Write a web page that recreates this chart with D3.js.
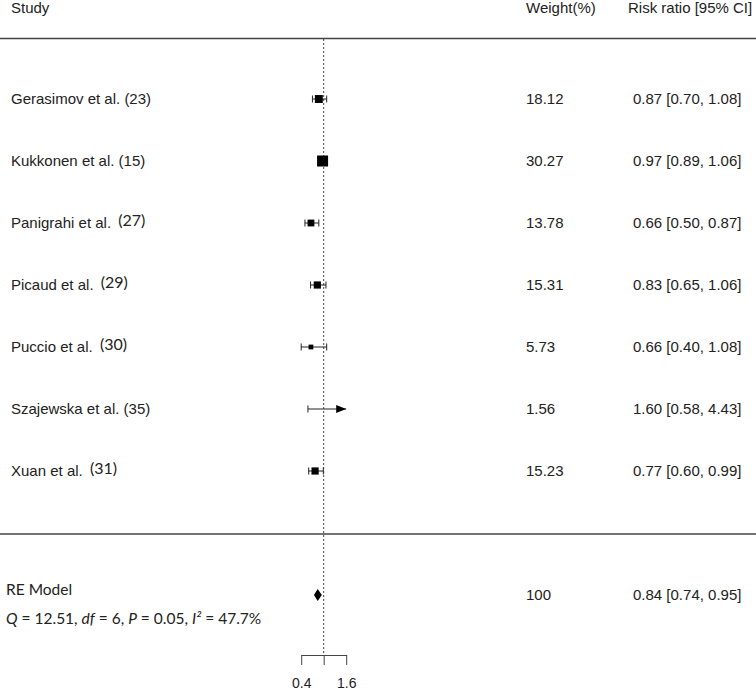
<!DOCTYPE html>
<html>
<head>
<meta charset="utf-8">
<script src="https://cdn.jsdelivr.net/npm/d3@7"></script>
<style>
  body { margin: 0; background: #fff; }
  text { font-family: "Liberation Sans", Arial, sans-serif; fill: #222; }
  .cal { font-family: Lato, "Open Sans", sans-serif; }
</style>
</head>
<body>
<div id="chart"></div>
<script>
const studies = ['Gerasimov et al.', 'Kukkonen et al.', 'Panigrahi et al.', 'Picaud et al.',
                 'Puccio et al.', 'Szajewska et al.', 'Xuan et al.'];
const refs    = ['(23)', '(15)', '(27)', '(29)', '(30)', '(35)', '(31)'];
const weights = [18.12, 30.27, 13.78, 15.31, 5.73, 1.56, 15.23];
const rr      = [0.87, 0.97, 0.66, 0.83, 0.66, 1.60, 0.77];
const lower   = [0.70, 0.89, 0.50, 0.65, 0.40, 0.58, 0.60];
const upper   = [1.08, 1.06, 0.87, 1.06, 1.08, 4.43, 0.99];

const pooled     = { label: 'RE Model', weight: '100', rr: 0.84, lower: 0.74, upper: 0.95 };
const tickValues = [0.4, 1, 1.6];
const tickLabels = ['0.4', '', '1.6'];

// refs that were typed in another font in the original
const calRefs = ['(27)', '(29)', '(30)', '(31)'];

const width = 756,
      height = 693;

const chart = d3.select('#chart')
                .append('svg')
                .attr('width', width)
                .attr('height', height);

const x = d3.scaleLinear()
            .domain([0.4, 1.6])
            .range([301.2, 346.2]);

const y = d3.scalePoint()
            .domain(studies)
            .range([99, 471]);

const boxSize = d3.scaleLinear()
                  .domain([d3.min(weights), d3.max(weights)])
                  .range([3.7, 11]);

const fmt = d3.format('.2f');

// header
chart.append('text').attr('x', 11).attr('y', 13).style('font-size', '15px').text('Study');
chart.append('text').attr('x', 526).attr('y', 13).style('font-size', '15px').text('Weight(%)');
chart.append('text').attr('x', 628).attr('y', 13).style('font-size', '15px').text('Risk ratio [95% CI]');

// separator lines
[38.5, 534].forEach(function(yy) {
  chart.append('line')
       .attr('x1', 0).attr('x2', width)
       .attr('y1', yy).attr('y2', yy)
       .attr('stroke', '#444')
       .attr('stroke-width', 1.5);
});

// reference line at 1
chart.append('line')
     .attr('x1', x(1)).attr('x2', x(1))
     .attr('y1', 39).attr('y2', 655)
     .attr('stroke', '#444')
     .attr('stroke-width', 1)
     .attr('stroke-dasharray', '2,2');

const rows = chart.selectAll('.row')
                  .data(studies)
                  .enter()
                  .append('g')
                  .attr('class', 'row');

const lab = rows.append('text')
                .attr('x', 11)
                .attr('y', function(d) { return y(d) + 5; })
                .style('font-size', '15px');

lab.append('tspan').text(function(d) { return d + ' '; });
lab.append('tspan')
   .attr('class', function(d, i) { return calRefs.includes(refs[i]) ? 'cal' : null; })
   .attr('dx', function(d, i) { return calRefs.includes(refs[i]) ? 3 : 0; })
   .attr('dy', function(d, i) { return calRefs.includes(refs[i]) ? -2 : 0; })
   .style('font-size', function(d, i) { return calRefs.includes(refs[i]) ? '16px' : '15px'; })
   .text(function(d, i) { return refs[i]; });

rows.append('text')
    .attr('x', 526)
    .attr('y', function(d) { return y(d) + 5; })
    .style('font-size', '15px')
    .text(function(d, i) { return fmt(weights[i]); });

rows.append('text')
    .attr('x', 633)
    .attr('y', function(d) { return y(d) + 5; })
    .style('font-size', '15px')
    .text(function(d, i) { return fmt(rr[i]) + ' [' + fmt(lower[i]) + ', ' + fmt(upper[i]) + ']'; });

// CI lines, clipped at axis limit
const xmax = x.domain()[1];
rows.append('line')
    .attr('x1', function(d, i) { return x(lower[i]); })
    .attr('x2', function(d, i) { return x(Math.min(upper[i], xmax)); })
    .attr('y1', function(d) { return y(d); })
    .attr('y2', function(d) { return y(d); })
    .attr('stroke', '#222');

rows.append('line')
    .attr('x1', function(d, i) { return x(lower[i]); })
    .attr('x2', function(d, i) { return x(lower[i]); })
    .attr('y1', function(d) { return y(d) - 3.5; })
    .attr('y2', function(d) { return y(d) + 3.5; })
    .attr('stroke', '#222');

rows.filter(function(d, i) { return upper[i] <= xmax; })
    .append('line')
    .attr('x1', function(d) { return x(upper[studies.indexOf(d)]); })
    .attr('x2', function(d) { return x(upper[studies.indexOf(d)]); })
    .attr('y1', function(d) { return y(d) - 3.5; })
    .attr('y2', function(d) { return y(d) + 3.5; })
    .attr('stroke', '#222');

rows.filter(function(d, i) { return upper[i] > xmax; })
    .append('path')
    .attr('d', function(d) {
      const tip = x(xmax), yy = y(d);
      return 'M' + tip + ',' + yy + 'L' + (tip - 10) + ',' + (yy - 4) + 'L' + (tip - 10) + ',' + (yy + 4) + 'Z';
    })
    .attr('fill', '#000');

// boxes
rows.filter(function(d, i) { return rr[i] < xmax; })
    .append('rect')
    .attr('x', function(d) { const i = studies.indexOf(d); return x(rr[i]) - boxSize(weights[i]) / 2; })
    .attr('y', function(d) { const i = studies.indexOf(d); return y(d) - boxSize(weights[i]) / 2; })
    .attr('width', function(d) { return boxSize(weights[studies.indexOf(d)]); })
    .attr('height', function(d) { return boxSize(weights[studies.indexOf(d)]); })
    .attr('fill', '#000');

// pooled estimate
const py = 595;
chart.append('path')
     .attr('d', 'M' + x(pooled.lower) + ',' + py + 'L' + x(pooled.rr) + ',' + (py - 6) +
                'L' + x(pooled.upper) + ',' + py + 'L' + x(pooled.rr) + ',' + (py + 6) + 'Z')
     .attr('fill', '#000');

chart.append('text').attr('class', 'cal').attr('x', 6).attr('y', 595)
     .style('font-size', '15.5px').text(pooled.label);

const het = chart.append('text').attr('class', 'cal').attr('x', 6).attr('y', 624)
                 .style('font-size', '15.5px');
het.append('tspan').style('font-style', 'italic').text('Q');
het.append('tspan').text(' = 12.51, ');
het.append('tspan').style('font-style', 'italic').text('df');
het.append('tspan').text(' = 6, ');
het.append('tspan').style('font-style', 'italic').text('P');
het.append('tspan').text(' = 0.05, ');
het.append('tspan').style('font-style', 'italic').text('I²');
het.append('tspan').text(' = 47.7%');

chart.append('text').attr('x', 526).attr('y', 600).style('font-size', '15px').text(pooled.weight);
chart.append('text').attr('x', 633).attr('y', 600).style('font-size', '15px')
     .text(fmt(pooled.rr) + ' [' + fmt(pooled.lower) + ', ' + fmt(pooled.upper) + ']');

// x axis
const xAxis = d3.axisBottom(x)
                .tickValues(tickValues)
                .tickFormat(function(d, i) { return tickLabels[i]; })
                .tickSize(10)
                .tickSizeOuter(0)
                .tickPadding(13);

const xAxisGroup = chart.append('g')
                        .attr('transform', 'translate(0, 655)')
                        .call(xAxis);

xAxisGroup.select('.domain').attr('stroke', '#444');
xAxisGroup.selectAll('.tick line').attr('stroke', '#444');
xAxisGroup.selectAll('.tick text')
          .style('font-family', '"Liberation Sans", Arial, sans-serif')
          .style('font-size', '14px')
          .attr('fill', '#222');
</script>
</body>
</html>
